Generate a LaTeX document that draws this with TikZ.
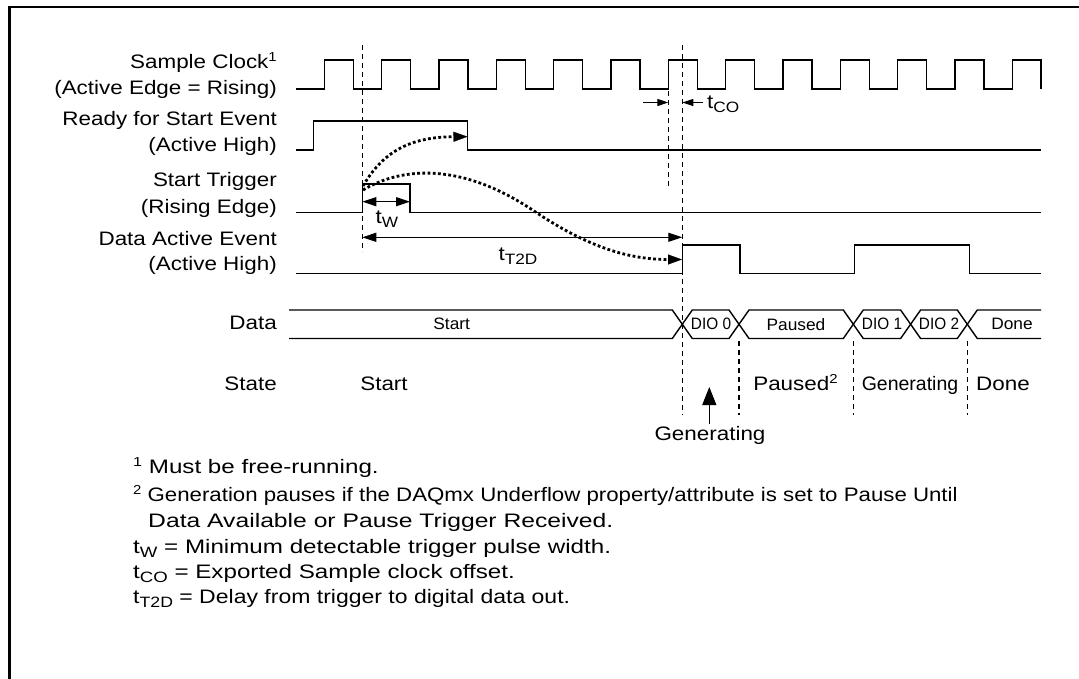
\documentclass[tikz,border=0pt]{standalone}
\usepackage{fontspec}
\setmainfont[FakeStretch=1.15]{Liberation Sans}
\newfontfamily\busfont[FakeStretch=1.05]{Liberation Sans}
\newfontfamily\dioFont[FakeStretch=0.93]{Liberation Sans}
\newfontfamily\fnfont[FakeStretch=1.24]{Liberation Sans}
\newfontfamily\fnwide[FakeStretch=1.266]{Liberation Sans}
\newfontfamily\fnnarrow[FakeStretch=1.18]{Liberation Sans}
\newfontfamily\fnlong[FakeStretch=1.141]{Liberation Sans}
\newfontfamily\plainfont[FakeStretch=1.0]{Liberation Sans}
\usetikzlibrary{arrows.meta}
\newcommand\tsub[1]{\raisebox{-4pt}{\fontsize{15}{15}\selectfont #1}}
\newcommand\tsup[1]{\raisebox{7pt}{\fontsize{13}{13}\selectfont #1}}
\tikzset{
  lbl/.style={inner sep=0pt, font=\fontsize{19.5}{22}\selectfont, text height=14pt, text depth=4pt},
  fn/.style={lbl, anchor=west, font=\fnfont\fontsize{19.5}{22}\selectfont},
  buslbl/.style={inner sep=0pt, font=\busfont\fontsize{16.5}{18}\selectfont},
  diolbl/.style={inner sep=0pt, font=\dioFont\fontsize{16.5}{18}\selectfont},
  wave/.style={line width=1.4pt, line join=miter},
  guide/.style={line width=1.1pt, dash pattern=on 5pt off 4pt},
  dimarr/.style={line width=1.1pt, {Triangle[length=14pt,width=9pt]}-{Triangle[length=14pt,width=9pt]}},
  smallarr/.style={line width=1.1pt, -{Triangle[length=11pt,width=7pt]}},
  dotcurve/.style={line width=2.8pt, dash pattern=on 2.8pt off 2.4pt, -{Triangle[length=14pt,width=10pt,line width=0.3pt]}},
  frame/.style={line width=2.5pt}
}
\begin{document}
\begin{tikzpicture}[x=1pt,y=-1pt]
\useasboundingbox (0,0) rectangle (1079,679);
\fill[white] (0,0) rectangle (1079,679);
% frame
\draw[frame] (9.5,679) -- (9.5,7) -- (1079,7);

% signal labels
\node[lbl,anchor=east] (l1a) at (277,63.3) {Sample Clock\tsup{1}};
\node[lbl,anchor=east] (l1b) at (277,90) {(Active Edge = Rising)};
\node[lbl,anchor=east] (l2a) at (277,120.7) {Ready for Start Event};
\node[lbl,anchor=east] (l2b) at (277,146.7) {(Active High)};
\node[lbl,anchor=east] (l3a) at (277,181.7) {Start Trigger};
\node[lbl,anchor=east] (l3b) at (277,208.3) {(Rising Edge)};
\node[lbl,anchor=east] (l4a) at (277,240.7) {Data Active Event};
\node[lbl,anchor=east] (l4b) at (277,265) {(Active High)};
\node[lbl,anchor=east] (l5) at (277,324) {Data};
\node[lbl,anchor=east] (l6) at (277,385) {State};

% sample clock
\draw[wave] (296,89) foreach \k in {0,...,11} {
  -- ({324.33+57.33*\k},89) -- ({324.33+57.33*\k},60)
  -- ({353.33+57.33*\k},60) -- ({353.33+57.33*\k},89) }
  -- (1012.3,89) -- (1012.3,60) -- (1041,60) -- (1041,89);

% ready for start event
\draw[wave] (296,150) -- (313.7,150) -- (313.7,121) -- (467.7,121) -- (467.7,150) -- (1041,150);
% start trigger
\draw[wave] (296,212.3) -- (362.3,212.3) -- (362.3,184) -- (410,184) -- (410,212.3) -- (1041,212.3);
% data active event
\draw[wave] (296,273.3) -- (682.3,273.3) -- (682.3,245) -- (740,245) -- (740,273.3)
  -- (854.3,273.3) -- (854.3,245) -- (969.3,245) -- (969.3,273.3) -- (1041,273.3);

% guide lines
\draw[guide] (362.3,45) -- (362.3,252);
\draw[guide] (682.3,45) -- (682.3,415);
\draw[guide] (668.3,91) -- (668.3,189);
\draw[guide] (739,341) -- (739,415);
\draw[guide] (853.3,341) -- (853.3,415);
\draw[guide] (967.3,341) -- (967.3,415);

% t_CO
\coordinate (co1) at (643.3,102.5);
\coordinate (co2) at (668.3,102.5);
\coordinate (co3) at (703.3,102.5);
\coordinate (co4) at (682.3,102.5);
\draw[smallarr] (co1) -- (co2);
\draw[smallarr] (co3) -- (co4);
\node[lbl,anchor=west] (tco) at (707,104) {t\tsub{CO}};

% t_W
\coordinate (w1) at (362.3,201.7);
\coordinate (w2) at (410,201.7);
\draw[dimarr] (w1) -- (w2);
\node[lbl] (tw) at (387,219) {t\tsub{W}};

% t_T2D
\coordinate (d1) at (362.3,237.3);
\coordinate (d2) at (682.3,237.3);
\draw[dimarr] (d1) -- (d2);
\node[lbl] (tt2d) at (518,256) {t\tsub{T2D}};

% dotted causal curves
\coordinate (c1s) at (363,186);
\coordinate (c1e) at (467.5,136.7);
\draw[dotcurve] (c1s) .. controls (385,148) and (415,137) .. (c1e);
\coordinate (c2s) at (363,190);
\coordinate (c2m) at (537,213);
\coordinate (c2e) at (682,259.5);
\draw[dotcurve] (c2s) .. controls (400,168) and (460,160) .. (c2m)
  .. controls (590,248) and (630,259.5) .. (c2e);

% data bus
\def\bt{310}\def\bb{338.5}\def\bm{324.25}
\draw[wave] (289,\bt) -- (672.3,\bt) -- (692.3,\bb) -- (729,\bb) -- (749,\bt) -- (843.3,\bt) -- (863.3,\bb)
  -- (900.6,\bb) -- (920.6,\bt) -- (957.3,\bt) -- (977.3,\bb) -- (1041,\bb);
\draw[wave] (289,\bb) -- (672.3,\bb) -- (692.3,\bt) -- (729,\bt) -- (749,\bb) -- (843.3,\bb) -- (863.3,\bt)
  -- (900.6,\bt) -- (920.6,\bb) -- (957.3,\bb) -- (977.3,\bt) -- (1041,\bt);
\node[buslbl] (b1) at (451.7,\bm) {Start};
\node[diolbl] (b2) at (711,\bm) {DIO 0};
\node[buslbl] (b3) at (796,\bm) {Paused};
\node[diolbl] (b4) at (882,\bm) {DIO 1};
\node[diolbl] (b5) at (939,\bm) {DIO 2};
\node[buslbl] (b6) at (1012,\bm) {Done};

% state row
\node[lbl] (s1) at (384,385) {Start};
\node[lbl] (s2) at (795.5,385) {Paused\tsup{2}};
\node[lbl,font=\plainfont\fontsize{19.5}{22}\selectfont] (s3) at (910,385) {Generating};
\node[lbl] (s4) at (1003,385) {Done};
\node[lbl] (s5) at (710,435) {Generating};
\coordinate (up) at (709.3,387);
\draw[line width=1.1pt, -{Triangle[length=18pt,width=14pt]}] (s5.north -| up) ++(0,-2) -- (up);

% footnotes
\node[fn] (f1) at (133,468) {\tsup{1} Must be free-running.};
\node[fn,font=\fnlong\fontsize{19.5}{22}\selectfont] (f2) at (133,496.5) {\tsup{2} Generation pauses if the DAQmx Underflow property/attribute is set to Pause Until};
\node[fn,font=\fnwide\fontsize{19.5}{22}\selectfont] (f3) at (148,522.5) {Data Available or Pause Trigger Received.};
\node[fn] (f4) at (133,548.5) {t\tsub{W} = Minimum detectable trigger pulse width.};
\node[fn] (f5) at (133,573.5) {t\tsub{CO} = Exported Sample clock offset.};
\node[fn,font=\fnnarrow\fontsize{19.5}{22}\selectfont] (f6) at (133,598) {t\tsub{T2D} = Delay from trigger to digital data out.};
\end{tikzpicture}
\end{document}
